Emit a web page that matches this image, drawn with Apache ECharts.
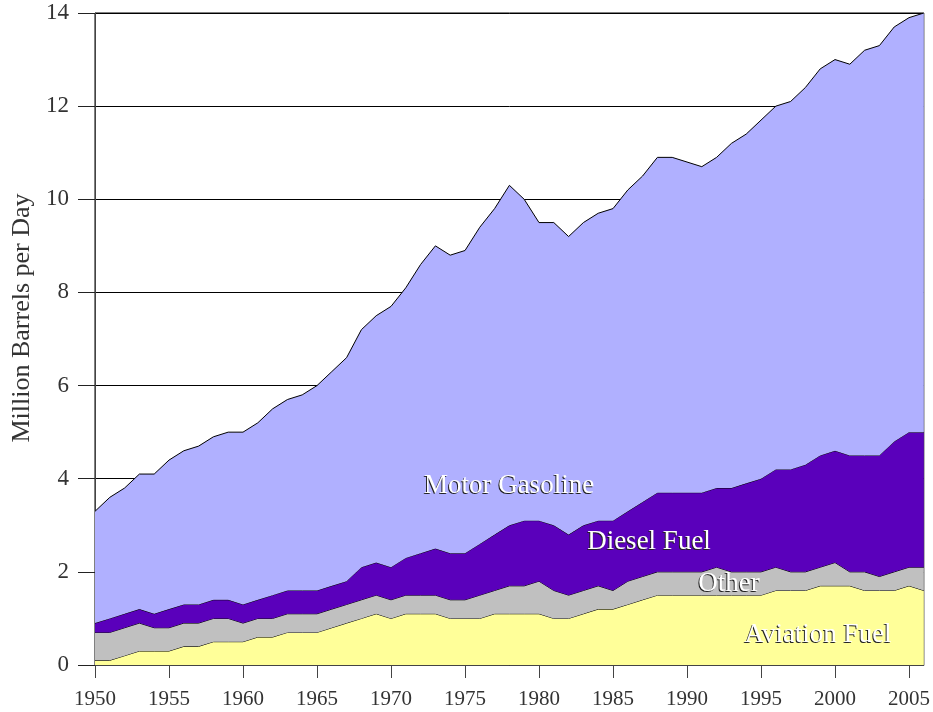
<!DOCTYPE html>
<html>
<head>
<meta charset="utf-8">
<script src="https://cdn.jsdelivr.net/npm/echarts@6/dist/echarts.min.js"></script>
<style>
  html, body { margin: 0; padding: 0; background: #fff; }
  #chart { width: 933px; height: 712px; }
</style>
</head>
<body>
<div id="chart"></div>
<script>
var years = [];
for (var yr = 1950; yr <= 2006; yr++) years.push(String(yr));

var aviationFuel = [
  0.1, 0.1, 0.2, 0.3, 0.3, 0.3, 0.4, 0.4, 0.5, 0.5,
  0.5, 0.6, 0.6, 0.7, 0.7, 0.7, 0.8, 0.9, 1.0, 1.1,
  1.0, 1.1, 1.1, 1.1, 1.0, 1.0, 1.0, 1.1, 1.1, 1.1,
  1.1, 1.0, 1.0, 1.1, 1.2, 1.2, 1.3, 1.4, 1.5, 1.5,
  1.5, 1.5, 1.5, 1.5, 1.5, 1.5, 1.6, 1.6, 1.6, 1.7,
  1.7, 1.7, 1.6, 1.6, 1.6, 1.7, 1.6
];
var other = [
  0.6, 0.6, 0.6, 0.6, 0.5, 0.5, 0.5, 0.5, 0.5, 0.5,
  0.4, 0.4, 0.4, 0.4, 0.4, 0.4, 0.4, 0.4, 0.4, 0.4,
  0.4, 0.4, 0.4, 0.4, 0.4, 0.4, 0.5, 0.5, 0.6, 0.6,
  0.7, 0.6, 0.5, 0.5, 0.5, 0.4, 0.5, 0.5, 0.5, 0.5,
  0.5, 0.5, 0.6, 0.5, 0.5, 0.5, 0.5, 0.4, 0.4, 0.4,
  0.5, 0.3, 0.4, 0.3, 0.4, 0.4, 0.5
];
var dieselFuel = [
  0.2, 0.3, 0.3, 0.3, 0.3, 0.4, 0.4, 0.4, 0.4, 0.4,
  0.4, 0.4, 0.5, 0.5, 0.5, 0.5, 0.5, 0.5, 0.7, 0.7,
  0.7, 0.8, 0.9, 1.0, 1.0, 1.0, 1.1, 1.2, 1.3, 1.4,
  1.3, 1.4, 1.3, 1.4, 1.4, 1.5, 1.5, 1.6, 1.7, 1.7,
  1.7, 1.7, 1.7, 1.8, 1.9, 2.0, 2.1, 2.2, 2.3, 2.4,
  2.4, 2.5, 2.5, 2.6, 2.8, 2.9, 2.9
];
var motorGasoline = [
  2.4, 2.6, 2.7, 2.9, 3.0, 3.2, 3.3, 3.4, 3.5, 3.6,
  3.7, 3.8, 4.0, 4.1, 4.2, 4.4, 4.6, 4.8, 5.1, 5.3,
  5.6, 5.8, 6.2, 6.5, 6.4, 6.5, 6.8, 7.0, 7.3, 6.9,
  6.4, 6.5, 6.4, 6.5, 6.6, 6.7, 6.9, 7.0, 7.2, 7.2,
  7.1, 7.0, 7.1, 7.4, 7.5, 7.7, 7.8, 7.9, 8.1, 8.3,
  8.4, 8.4, 8.7, 8.8, 8.9, 8.9, 9.0
];

var yAxisTitle = 'Million Barrels per Day';
var seriesNames = ['Aviation Fuel', 'Other', 'Diesel Fuel', 'Motor Gasoline'];
var seriesColors = ['#ffff99', '#c0c0c0', '#5a00bb', '#b0b0ff'];
var seriesData = [aviationFuel, other, dieselFuel, motorGasoline];

var FONT = 'Liberation Serif';

var chart = echarts.init(document.getElementById('chart'), null, { renderer: 'canvas' });

function mkSeries(i) {
  return {
    name: seriesNames[i],
    type: 'line',
    stack: 'total',
    data: seriesData[i].map(function (v) { return Math.round(v * 100) / 100; }),
    symbol: 'none',
    smooth: false,
    lineStyle: { color: '#000', width: 1 },
    areaStyle: { color: seriesColors[i], opacity: 1 },
    itemStyle: { color: seriesColors[i] },
    emphasis: { disabled: true },
    animation: false,
    z: 2 + i
  };
}

function textEl(text, x, y, fill) {
  return {
    type: 'text',
    x: x, y: y,
    z: 100,
    style: {
      text: text,
      fill: fill,
      font: '27px "' + FONT + '"',
      textAlign: 'center',
      textVerticalAlign: 'middle'
    }
  };
}
function label(text, x, y) {
  return [textEl(text, x - 1, y + 1, '#222'), textEl(text, x, y, '#ffffff')];
}

function every5(idx) { return idx % 5 === 0; }

chart.setOption({
  animation: false,
  backgroundColor: '#ffffff',
  grid: {
    left: 95, right: 9, top: 13, bottom: 47,
    show: true, borderColor: '#000', borderWidth: 1,
    backgroundColor: 'transparent'
  },
  xAxis: {
    type: 'category',
    data: years,
    boundaryGap: false,
    axisLine: { lineStyle: { color: '#444', width: 1 } },
    axisTick: { interval: every5, length: 13, lineStyle: { color: '#444' } },
    axisLabel: {
      interval: every5,
      margin: 24,
      color: '#333',
      fontFamily: FONT,
      fontSize: 21,
      hideOverlap: false
    },
    splitLine: { show: false }
  },
  yAxis: {
    type: 'value',
    min: 0, max: 14, interval: 2,
    axisLine: { show: true, lineStyle: { color: '#444', width: 1 } },
    axisTick: { show: true, length: 17, lineStyle: { color: '#222' } },
    axisLabel: {
      margin: 26,
      color: '#333',
      fontFamily: FONT,
      fontSize: 23
    },
    splitLine: { show: true, lineStyle: { color: '#000', width: 1 } }
  },
  series: [mkSeries(0), mkSeries(1), mkSeries(2), mkSeries(3)],
  graphic: [
    {
      type: 'text',
      x: 22, y: 318,
      rotation: Math.PI / 2,
      z: 100,
      style: {
        text: yAxisTitle,
        fill: '#333',
        font: '26px "' + FONT + '"',
        textAlign: 'center',
        textVerticalAlign: 'middle'
      }
    }
  ].concat(
    label('Motor Gasoline', 509, 486),
    label('Diesel Fuel', 649, 542),
    label('Other', 729, 584),
    label('Aviation Fuel', 818, 635)
  )
});
</script>
</body>
</html>
